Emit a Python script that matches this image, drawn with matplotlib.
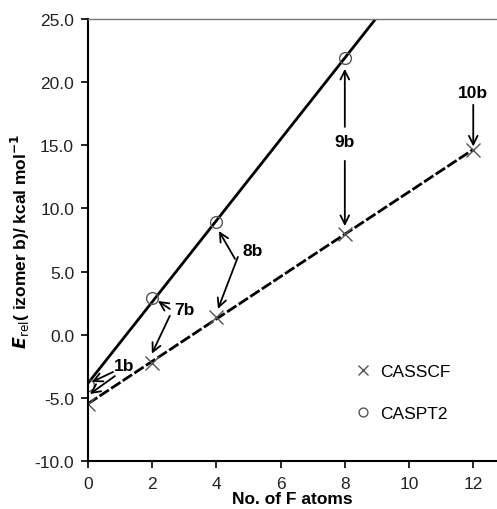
import numpy as np
import matplotlib
matplotlib.use('Agg')
import matplotlib.pyplot as plt

plt.rcParams['font.family'] = ['Liberation Sans', 'DejaVu Sans']
plt.rcParams['font.size'] = 12.5

# data
n_f_casscf = [0, 2, 4, 8, 12]
e_casscf = [-5.5, -2.2, 1.4, 8.0, 14.6]
n_f_caspt2 = [0, 2, 4, 8]
e_caspt2 = [-4.0, 2.9, 8.9, 21.9]
yticks = [-10, -5, 0, 5, 10, 15, 20, 25]
xticks = [0, 2, 4, 6, 8, 10, 12]

# labels: text, text position, arrows (start, end)
labels = [
    ('1b', (1.12, -2.47), [((0.78, -2.95), (0.12, -3.74)), ((0.84, -3.27), (0.06, -4.69))]),
    ('7b', (3.02, 1.96), [((2.55, 2.04), (2.18, 2.67)), ((2.55, 1.5), (1.99, -1.5))]),
    ('8b', (5.14, 6.63), [((4.58, 6.0), (4.08, 8.2)), ((4.67, 6.16), (4.05, 2.04))]),
    ('9b', (8.0, 15.3), [((8.0, 16.45), (8.0, 21.05)), ((8.0, 13.76), (8.0, 8.6))]),
    ('10b', (12.0, 19.2), [((12.0, 18.2), (12.0, 14.9))]),
]

fig = plt.figure(figsize=(4.97, 5.10), dpi=100)
ax = fig.add_axes([0.177, 0.094, 0.823, 0.867])

# linear fits
xx = np.array([0, 12])
p1 = np.polyfit(n_f_casscf, e_casscf, 1)
p2 = np.polyfit(n_f_caspt2, e_caspt2, 1)
ax.plot(xx, np.polyval(p1, xx), color='black', lw=2, ls=(0, (4, 1)))
ax.plot(xx, np.polyval(p2, xx), color='black', lw=2)

ax.plot(n_f_casscf, e_casscf, ls='none', marker='x', ms=10, mew=1, color='#555555', label='CASSCF')
ax.plot(n_f_caspt2, e_caspt2, ls='none', marker='o', ms=8.5, mew=1, mfc='none', mec='#555555', label='CASPT2')

for txt, pos, arrows in labels:
    ax.text(pos[0], pos[1], txt, fontweight='bold', ha='center', va='center', fontsize=12.5)
    for start, end in arrows:
        ax.annotate('', xy=end, xytext=start,
                    arrowprops=dict(arrowstyle='->,head_length=0.5,head_width=0.25',
                                    color='black', lw=1.3, shrinkA=0, shrinkB=0))

ax.set_xlim(0, 12.74)
ax.set_ylim(-10, 25)
ax.set_xticks(xticks)
ax.set_yticks(yticks)
ax.set_yticklabels(['{:.1f}'.format(v) for v in yticks])
ax.tick_params(direction='out', length=5, width=1.2, colors='black', labelcolor='#222222')
ax.tick_params(axis='x', pad=6)
ax.tick_params(axis='y', pad=5)

ax.spines['right'].set_visible(False)
ax.spines['top'].set_color('#777777')
ax.spines['top'].set_linewidth(1)
ax.spines['left'].set_linewidth(1.5)
ax.spines['bottom'].set_linewidth(1.5)

ax.set_xlabel('No. of F atoms', fontweight='bold', labelpad=0)
ax.set_ylabel(r'$\boldsymbol{E}_{\rm rel}$( izomer b)/ kcal mol$^{\mathbf{-1}}$', fontweight='bold', labelpad=2)

ax.legend(loc='upper left', bbox_to_anchor=(0.613, 0.256), frameon=False, markerscale=0.75,
          handlelength=1, labelspacing=1.55, handletextpad=0.48, fontsize=12.5)

fig.savefig('out.png', dpi=100)
